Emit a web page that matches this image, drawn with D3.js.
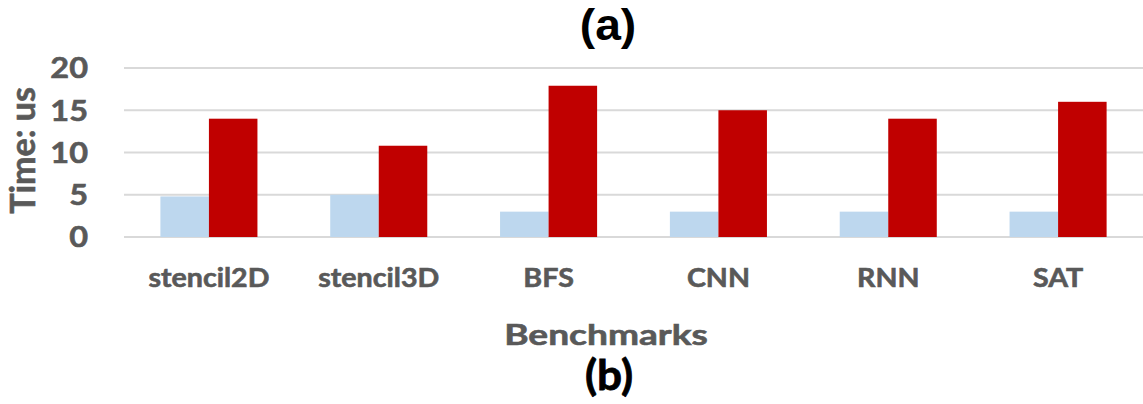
<!DOCTYPE html>
<html>
<head>
<meta charset="utf-8">
<script src="https://cdn.jsdelivr.net/npm/d3@7"></script>
<style>
  html, body { margin: 0; padding: 0; background: #fff; }
  svg { display: block; }
</style>
</head>
<body>
<svg id="chart" width="1143" height="404"></svg>
<script>
// Benchmarks and their timings (microseconds)
const categories = ["stencil2D", "stencil3D", "BFS", "CNN", "RNN", "SAT"];
const seriesNames = ["baseline", "comparison"];
const baselineTimes = [4.8, 5.0, 3.0, 3.0, 3.0, 3.0];
const comparisonTimes = [14.0, 10.8, 17.9, 15.0, 14.0, 16.0];
const yTicks = [0, 5, 10, 15, 20];
const seriesColors = ["#BDD7EE", "#C00000"];

const svg = d3.select("#chart");
const plot = { left: 124, right: 1143, top: 68, bottom: 237 };
const labelFont = "Lato, 'Open Sans', sans-serif";
const grey = "#595959";

const x0 = d3.scaleBand().domain(categories).range([plot.left, plot.right]).paddingInner(0).paddingOuter(0);
const x1 = d3.scaleBand().domain(seriesNames).range([0, x0.bandwidth()]).paddingInner(0).paddingOuter(0.75);
const y = d3.scaleLinear().domain([0, 20]).range([plot.bottom, plot.top]);

// Text helper: places a label, widens it horizontally by sx and thickens strokes slightly
function label(parent, x, yPos, str, opts) {
  const fill = opts.fill || grey;
  const g = parent.append("g")
    .attr("transform", `translate(${x},${yPos}) scale(${opts.sx || 1},1)`);
  return g.append("text")
    .attr("text-anchor", opts.anchor || "middle")
    .attr("dy", opts.dy || 0)
    .attr("font-family", opts.family || labelFont)
    .attr("font-weight", 700)
    .attr("font-size", opts.size)
    .attr("fill", fill)
    .attr("stroke", fill)
    .attr("stroke-width", opts.stroke == null ? 0.6 : opts.stroke)
    .text(str);
}

// Horizontal gridlines
svg.append("g")
  .selectAll("line")
  .data(yTicks)
  .join("line")
  .attr("x1", plot.left)
  .attr("x2", plot.right)
  .attr("y1", d => y(d))
  .attr("y2", d => y(d))
  .attr("stroke", "#D9D9D9")
  .attr("stroke-width", 2);

// Grouped bars
const rows = categories.map((c, i) => ({
  category: c,
  values: [
    { series: seriesNames[0], value: baselineTimes[i], color: seriesColors[0] },
    { series: seriesNames[1], value: comparisonTimes[i], color: seriesColors[1] }
  ]
}));

svg.append("g")
  .selectAll("g")
  .data(rows)
  .join("g")
  .attr("transform", d => `translate(${x0(d.category)},0)`)
  .selectAll("rect")
  .data(d => d.values)
  .join("rect")
  .attr("x", d => x1(d.series))
  .attr("width", x1.bandwidth())
  .attr("y", d => y(d.value))
  .attr("height", d => y(0) - y(d.value))
  .attr("fill", d => d.color);

// Y tick labels
const tickG = svg.append("g");
yTicks.forEach(t => {
  label(tickG, 88, y(t), t, { size: 29, sx: 1.12, anchor: "end", dy: "0.36em" });
});

// Category labels
const catG = svg.append("g");
categories.forEach(c => {
  label(catG, x0(c) + x0.bandwidth() / 2, 287, c, { size: 26, sx: 1.1 });
});

// Axis titles
label(svg, 606, 345, "Benchmarks", { size: 29, sx: 1.28 });

svg.append("text")
  .attr("transform", `translate(35,${(plot.top + plot.bottom) / 2 - 2}) rotate(-90)`)
  .attr("text-anchor", "middle")
  .attr("font-family", labelFont)
  .attr("font-weight", 700)
  .attr("font-size", 34)
  .attr("fill", grey)
  .attr("stroke", grey)
  .attr("stroke-width", 0.6)
  .text("Time: us");

// Panel labels
label(svg, 608, 40, "(a)", { size: 44, sx: 1.05, family: "'Liberation Sans', Arial, sans-serif", fill: "#000", stroke: 0 });
label(svg, 609, 390, "(b)", { size: 42, sx: 1.05, fill: "#000", stroke: 0.8 });
</script>
</body>
</html>
